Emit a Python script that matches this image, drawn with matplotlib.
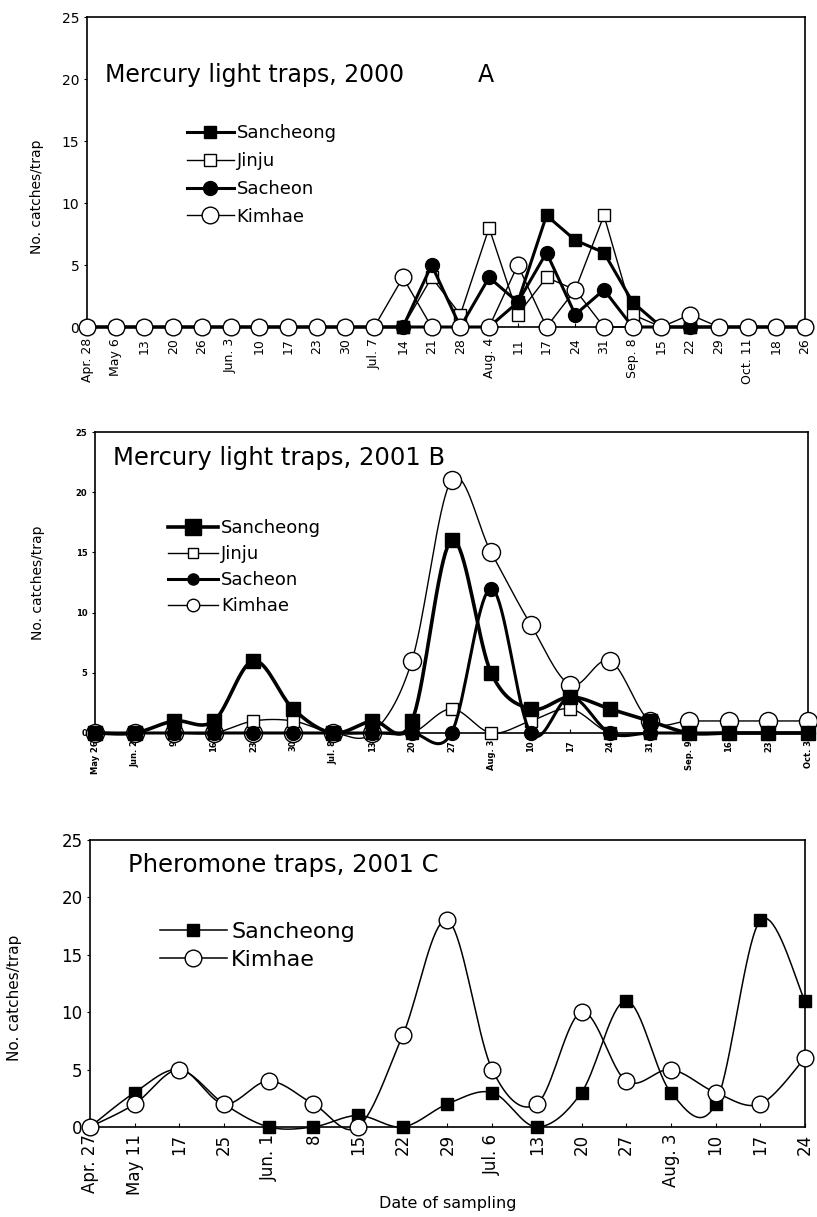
import numpy as np
import matplotlib.pyplot as plt
from matplotlib.lines import Line2D

plt.rcParams['font.family'] = ['DejaVu Sans']

# Panel A - mercury light traps 2000
dates_a = ['Apr. 28', 'May 6', '13', '20', '26', 'Jun. 3', '10', '17', '23', '30',
           'Jul. 7', '14', '21', '28', 'Aug. 4', '11', '17', '24', '31', 'Sep. 8',
           '15', '22', '29', 'Oct. 11', '18', '26']
sanch_a = [0, 0, 0, 0, 0, 0, 0, 0, 0, 0, 0, 0, 0, 0, 0, 2, 9, 7, 6, 2, 0, 0, 0, 0, 0, 0]
jinju_a = [0, 0, 0, 0, 0, 0, 0, 0, 0, 0, 0, 0, 4, 1, 8, 1, 4, 3, 9, 1, 0, 0, 0, 0, 0, 0]
sache_a = [0, 0, 0, 0, 0, 0, 0, 0, 0, 0, 0, 0, 5, 0, 4, 2, 6, 1, 3, 0, 0, 0, 0, 0, 0, 0]
kimha_a = [0, 0, 0, 0, 0, 0, 0, 0, 0, 0, 0, 4, 0, 0, 0, 5, 0, 3, 0, 0, 0, 1, 0, 0, 0, 0]

# Panel B - mercury light traps 2001
dates_b = ['May 26', 'Jun. 2', '9', '16', '23', '30', 'Jul. 8', '13', '20', '27',
           'Aug. 3', '10', '17', '24', '31', 'Sep. 9', '16', '23', 'Oct. 3']
sanch_b = [0, 0, 1, 1, 6, 2, 0, 1, 1, 16, 5, 2, 3, 2, 1, 0, 0, 0, 0]
jinju_b = [0, 0, 0, 0, 1, 1, 0, 0, 0, 2, 0, 1, 2, 0, 0, 0, 0, 0, 0]
sache_b = [0, 0, 0, 0, 0, 0, 0, 0, 0, 0, 12, 0, 3, 0, 0, 0, 0, 0, 0]
kimha_b = [0, 0, 0, 0, 0, 0, 0, 0, 6, 21, 15, 9, 4, 6, 1, 1, 1, 1, 1]

# Panel C - pheromone traps 2001
dates_c = ['Apr. 27', 'May 11', '17', '25', 'Jun. 1', '8', '15', '22', '29',
           'Jul. 6', '13', '20', '27', 'Aug. 3', '10', '17', '24']
sanch_c = [0, 3, 5, 2, 0, 0, 1, 0, 2, 3, 0, 3, 11, 3, 2, 18, 11]
kimha_c = [0, 2, 5, 2, 4, 2, 0, 8, 18, 5, 2, 10, 4, 5, 3, 2, 6]


def smooth(x, y, n=20):
    # bezier smoothing like the excel "smoothed line" option
    x = np.asarray(x, dtype=float)
    y = np.asarray(y, dtype=float)
    px = np.r_[x[0], x, x[-1]]
    py = np.r_[y[0], y, y[-1]]
    t = np.linspace(0, 1, n)
    b0, b1, b2, b3 = (1 - t) ** 3, 3 * (1 - t) ** 2 * t, 3 * (1 - t) * t ** 2, t ** 3
    xs, ys = [], []
    for i in range(len(x) - 1):
        x0, x1, x2, x3 = px[i:i + 4]
        y0, y1, y2, y3 = py[i:i + 4]
        cx1, cy1 = x1 + (x2 - x0) / 6, y1 + (y2 - y0) / 6
        cx2, cy2 = x2 - (x3 - x1) / 6, y2 - (y3 - y1) / 6
        xs.append(b0 * x1 + b1 * cx1 + b2 * cx2 + b3 * x2)
        ys.append(b0 * y1 + b1 * cy1 + b2 * cy2 + b3 * y2)
    return np.concatenate(xs), np.concatenate(ys)


def series(ax, y, marker, filled, lw, ms, smoothed, z, lms=None):
    x = np.arange(len(y))
    if smoothed:
        lx, ly = smooth(x, y)
    else:
        lx, ly = x, y
    ax.plot(lx, ly, color='k', lw=lw, clip_on=False, zorder=z)
    ax.plot(x, y, ls='none', marker=marker, ms=ms, mec='k', mew=1,
            mfc='k' if filled else 'w', clip_on=False, zorder=z + 0.5)
    return Line2D([], [], color='k', lw=lw, marker=marker, ms=lms or ms, mec='k', mew=1,
                  mfc='k' if filled else 'w')


def setup(ax, dates, ytick_size, xtick_size, xpad, bold=False):
    ax.set_xlim(0, len(dates) - 1)
    ax.set_ylim(0, 25)
    ax.set_yticks(range(0, 26, 5))
    ax.set_xticks(range(len(dates)))
    ax.set_xticklabels(dates, rotation=90, fontsize=xtick_size,
                       fontweight='bold' if bold else 'normal')
    ax.tick_params(axis='y', labelsize=ytick_size, length=2, width=0.8)
    ax.tick_params(axis='x', direction='in', length=3, width=0.8, pad=xpad)
    if bold:
        for lab in ax.get_yticklabels():
            lab.set_fontweight('bold')
    for s in ax.spines.values():
        s.set_linewidth(1.2)


fig = plt.figure(figsize=(8.17, 12.17), dpi=100)

# ---- A ----
axA = fig.add_axes([0.1065, 0.7313, 0.8788, 0.2547])
hA = [series(axA, sanch_a, 's', True, 2.2, 9, False, 3),
      series(axA, jinju_a, 's', False, 1.0, 9, False, 4),
      series(axA, sache_a, 'o', True, 2.2, 10, False, 5),
      series(axA, kimha_a, 'o', False, 1.0, 12, False, 6)]
setup(axA, dates_a, 10, 9, 8)
axA.set_ylabel('No. catches/trap', fontsize=10)
axA.yaxis.set_label_coords(-0.06, 0.42)
axA.text(0.025, 0.813, 'Mercury light traps, 2000', transform=axA.transAxes,
         fontsize=17, va='center')
axA.text(0.545, 0.813, 'A', transform=axA.transAxes, fontsize=17, va='center')
axA.legend(hA, ['Sancheong', 'Jinju', 'Sacheon', 'Kimhae'], loc='upper left',
           bbox_to_anchor=(0.139, 0.655), frameon=False, fontsize=13,
           handlelength=2.6, handletextpad=0.15, labelspacing=0.55,
           borderpad=0, borderaxespad=0)

# ---- B ---- (filled markers sit on top of the Kimhae circles here)
axB = fig.add_axes([0.1163, 0.3977, 0.8727, 0.2473])
hB = [series(axB, sanch_b, 's', True, 2.6, 10, True, 6, 11),
      series(axB, jinju_b, 's', False, 1.0, 8, True, 4, 7),
      series(axB, sache_b, 'o', True, 2.2, 10, True, 5, 8),
      series(axB, kimha_b, 'o', False, 1.0, 13, True, 3, 9)]
setup(axB, dates_b, 6, 6, 5, bold=True)
axB.set_ylabel('No. catches/trap', fontsize=10)
axB.yaxis.set_label_coords(-0.07, 0.5)
axB.text(0.025, 0.914, 'Mercury light traps, 2001 B', transform=axB.transAxes,
         fontsize=17.5, va='center')
axB.legend(hB, ['Sancheong', 'Jinju', 'Sacheon', 'Kimhae'], loc='upper left',
           bbox_to_anchor=(0.102, 0.711), frameon=False, fontsize=13,
           handlelength=2.8, handletextpad=0.15, labelspacing=0.45,
           borderpad=0, borderaxespad=0)

# ---- C ----
axC = fig.add_axes([0.1102, 0.074, 0.875, 0.2358])
hC = [series(axC, sanch_c, 's', True, 1.1, 9, True, 3),
      series(axC, kimha_c, 'o', False, 1.1, 12, True, 4)]
setup(axC, dates_c, 12, 12, 5)
axC.set_ylabel('No. catches/trap', fontsize=11)
axC.yaxis.set_label_coords(-0.095, 0.45)
axC.set_xlabel('Date of sampling', fontsize=11.5, labelpad=1)
axC.text(0.053, 0.913, 'Pheromone traps, 2001 C', transform=axC.transAxes,
         fontsize=17.5, va='center')
axC.legend(hC, ['Sancheong', 'Kimhae'], loc='upper left',
           bbox_to_anchor=(0.098, 0.714), frameon=False, fontsize=16,
           handlelength=3.0, handletextpad=0.2, labelspacing=0.35,
           borderpad=0, borderaxespad=0)

fig.savefig('out.png', dpi=100)
